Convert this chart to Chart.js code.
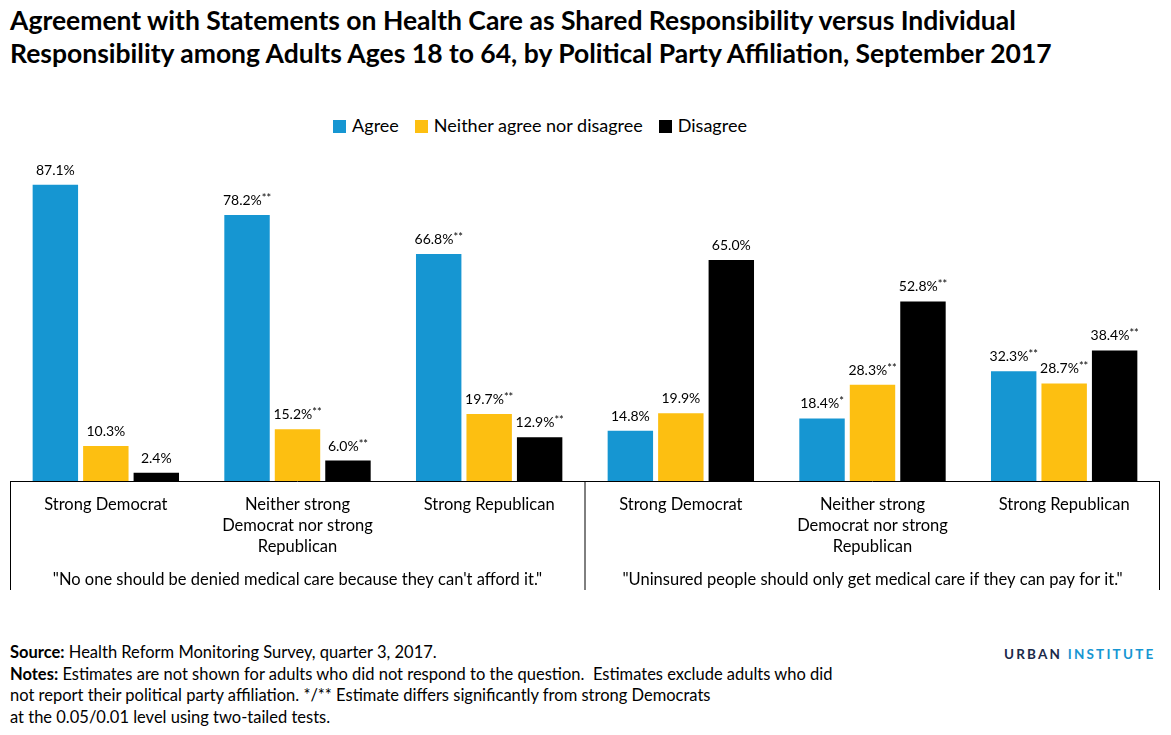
<!DOCTYPE html>
<html><head><meta charset="utf-8">
<script src="https://cdn.jsdelivr.net/npm/chart.js@4/dist/chart.umd.min.js"></script>
<style>
body{margin:0;width:1171px;height:735px;background:#fff;font-family:Lato,"Open Sans",sans-serif;position:relative;overflow:hidden}
#title{position:absolute;left:10px;top:4px;font-size:26.5px;font-weight:bold;line-height:33px;color:#000}
#legend{position:absolute;top:114px;left:0;width:1080px;text-align:center;font-size:18px}
#legend span{display:inline-block;margin:0 8px}
#legend i{display:inline-block;width:13px;height:13px;margin-right:6px;vertical-align:-1px}
#wrap{position:absolute;left:0;top:105px;width:1171px;height:495px}
#foot{position:absolute;left:10px;top:642px;font-size:16.5px;line-height:21.5px}
#logo{position:absolute;left:1004px;top:646px;font-size:13.5px;letter-spacing:2.2px;font-weight:bold;color:#1b2a4a}
</style></head><body>
<div id="title">Agreement with Statements on Health Care as Shared Responsibility versus Individual<br>Responsibility among Adults Ages 18 to 64, by Political Party Affiliation, September 2017</div>
<div id="legend"><span><i style="background:#1696d2"></i>Agree</span><span><i style="background:#fdbf11"></i>Neither agree nor disagree</span><span><i style="background:#000"></i>Disagree</span></div>
<div id="wrap"><canvas id="c"></canvas></div>
<div id="foot"><b>Source:</b> Health Reform Monitoring Survey, quarter 3, 2017.<br><b>Notes:</b> Estimates are not shown for adults who did not respond to the question.&nbsp; Estimates exclude adults who did<br>not report their political party affiliation. */** Estimate differs significantly from strong Democrats<br>at the 0.05/0.01 level using two-tailed tests.</div>
<div id="logo">URBAN <span style="color:#1696d2">INSTITUTE</span></div>
<script>
const categories = [['Strong Democrat'], ['Neither strong', 'Democrat nor strong', 'Republican'], ['Strong Republican'],
  ['Strong Democrat'], ['Neither strong', 'Democrat nor strong', 'Republican'], ['Strong Republican']];
const groupLabels = ['"No one should be denied medical care because they can\'t afford it."',
  '"Uninsured people should only get medical care if they can pay for it."'];
const agree = [87.1, 78.2, 66.8, 14.8, 18.4, 32.3];
const neither = [10.3, 15.2, 19.7, 19.9, 28.3, 28.7];
const disagree = [2.4, 6.0, 12.9, 65.0, 52.8, 38.4];
const agreeSig = ['', '**', '**', '', '*', '**'];
const neitherSig = ['', '**', '**', '', '**', '**'];
const disagreeSig = ['', '**', '**', '', '**', '**'];
const sigs = [agreeSig, neitherSig, disagreeSig];

const labelsPlugin = {
  id: 'labels',
  afterDatasetsDraw(chart) {
    const ctx = chart.ctx;
    const x = chart.scales.x, area = chart.chartArea;
    ctx.save();
    chart.data.datasets.forEach((ds, di) => {
      chart.getDatasetMeta(di).data.forEach((bar, i) => {
        const txt = ds.data[i].toFixed(1) + '%';
        const sig = sigs[di][i];
        ctx.font = '14px Lato';
        const w1 = ctx.measureText(txt).width;
        ctx.font = '11px Lato';
        const w2 = sig ? ctx.measureText(sig).width : 0;
        let sx = bar.x - (w1 + w2) / 2, y = bar.y - 10;
        ctx.fillStyle = '#000';
        ctx.textAlign = 'left';
        ctx.textBaseline = 'alphabetic';
        ctx.font = '14px Lato';
        ctx.fillText(txt, sx, y);
        if (sig) { ctx.font = '11px Lato'; ctx.fillText(sig, sx + w1, y - 3); }
      });
    });
    // axis box
    const base = area.bottom, bot = base + 109;
    const mid = (x.getPixelForValue(2) + x.getPixelForValue(3)) / 2;
    ctx.strokeStyle = '#000'; ctx.lineWidth = 1;
    ctx.beginPath();
    ctx.moveTo(area.left, base + 0.5); ctx.lineTo(area.right, base + 0.5);
    [area.left + 0.5, mid, area.right - 0.5].forEach(px => { ctx.moveTo(px, base); ctx.lineTo(px, bot); });
    ctx.stroke();
    ctx.font = '16.5px Lato'; ctx.textAlign = 'center'; ctx.textBaseline = 'middle';
    categories.forEach((lines, i) => {
      lines.forEach((l, k) => ctx.fillText(l, x.getPixelForValue(i), base + 24 + k * 21));
    });
    ctx.fillText(groupLabels[0], (area.left + mid) / 2, base + 99);
    ctx.fillText(groupLabels[1], (mid + area.right) / 2, base + 99);
    ctx.restore();
  }
};

new Chart(document.getElementById('c'), {
  type: 'bar',
  data: {
    labels: categories.map(c => c.join(' ')),
    datasets: [
      { label: 'Agree', data: agree, backgroundColor: '#1696d2' },
      { label: 'Neither agree nor disagree', data: neither, backgroundColor: '#fdbf11' },
      { label: 'Disagree', data: disagree, backgroundColor: '#000' }
    ]
  },
  options: {
    responsive: true, maintainAspectRatio: false, animation: false,
    layout: { padding: { top: 36, left: 10, right: 11, bottom: 119 } },
    datasets: { bar: { categoryPercentage: 0.79, barPercentage: 0.9 } },
    plugins: { legend: { display: false }, tooltip: { enabled: false } },
    scales: {
      x: { display: false, grid: { display: false } },
      y: { display: false, min: 0, max: 100 }
    }
  },
  plugins: [labelsPlugin]
});
</script>
</body></html>
